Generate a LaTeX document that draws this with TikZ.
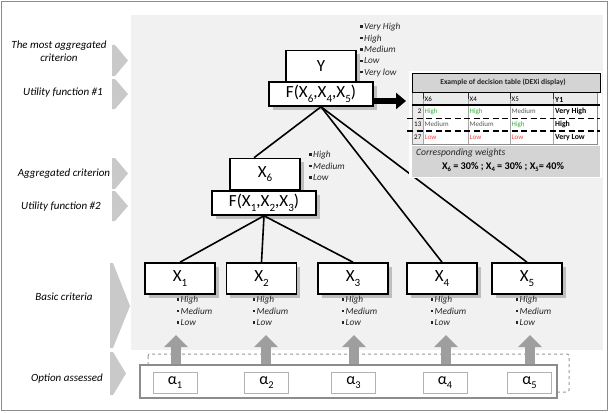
\documentclass[tikz,border=0pt]{standalone}
\usepackage{fontspec}
\setmainfont{Carlito}
\usetikzlibrary{arrows.meta,shadows}
\definecolor{hgreen}{HTML}{3DAE3D}
\definecolor{lred}{HTML}{F04848}
\definecolor{areagray}{HTML}{F1F1F1}
\newcommand\sbs[1]{\raisebox{-0.28em}{\scalebox{0.65}{#1}}}
\newcommand\bq{\rule[0.2em]{2.4pt}{2.4pt}\hspace{1.6pt}}
\begin{document}
\begin{tikzpicture}[x=1pt,y=-1pt,
 box/.style={draw=black,line width=1.6pt,fill=white,minimum width=70pt,minimum height=31pt,inner sep=0pt,
   font=\fontsize{17}{17}\selectfont,
   drop shadow={shadow xshift=3.5pt,shadow yshift=-3.5pt,fill=black!50,opacity=.45}},
 fbox/.style={box,minimum width=104pt,minimum height=24pt},
 lab/.style={font=\fontsize{11}{13}\selectfont\itshape,align=center,inner sep=0pt},
 chev/.style={fill=black!21,draw=none},
 bl/.style={anchor=north west,inner sep=0pt,align=left,font=\fontsize{9.3}{11.4}\selectfont\itshape,text=black!85},
 abox/.style={draw=black!30,fill=white,line width=0.8pt,minimum width=44pt,minimum height=21pt,inner sep=0pt,
   font=\fontsize{16}{16}\selectfont},
 uparr/.style={line width=10pt,draw=black!38,-{Triangle[length=12pt,width=23pt]}},
 link/.style={line width=1.6pt},
 tt/.style={font=\fontsize{7}{7}\selectfont,inner sep=0pt,anchor=west},
 ttb/.style={font=\fontsize{7.8}{8}\selectfont\bfseries,inner sep=0pt,anchor=west},
]
\useasboundingbox (0,0) rectangle (609,412);
% shaded area
\fill[areagray] (131,15) rectangle (603,350);
% left chevrons
\fill[chev] (112,45) -- (115,45) -- (128,60.5) -- (115,76) -- (112,76) -- cycle;
\fill[chev] (112,79) -- (115,79) -- (128,94) -- (115,109) -- (112,109) -- cycle;
\fill[chev] (112,158) -- (115,158) -- (128,173.5) -- (115,189) -- (112,189) -- cycle;
\fill[chev] (112,191) -- (115,191) -- (128,206) -- (115,221) -- (112,221) -- cycle;
\fill[chev] (110,263) -- (113,263) -- (130,306) -- (113,348) -- (110,348) -- cycle;
\fill[chev] (110,352) -- (113,352) -- (126,373.5) -- (113,395) -- (110,395) -- cycle;
% left labels
\node[lab] (l1) at (59,51.5) {The most aggregated\\criterion};
\node[lab] (l2) at (63,93) {Utility function \#1};
\node[lab] (l3) at (64,174) {Aggregated criterion};
\node[lab] (l4) at (61,207) {Utility function \#2};
\node[lab] (l5) at (64,297) {Basic criteria};
\node[lab] (l6) at (67,379) {Option assessed};
% tree boxes
\node[box] (Y) at (321,66) {Y};
\node[fbox] (F1) at (321,94) {F(X\sbs{6},X\sbs{4},X\sbs{5})};
\node[box] (X6) at (265,174) {X\sbs{6}};
\node[fbox] (F2) at (264,203) {F(X\sbs{1},X\sbs{2},X\sbs{3})};
\node[box] (X1) at (180,278.5) {X\sbs{1}};
\node[box] (X2) at (261.5,278.5) {X\sbs{2}};
\node[box] (X3) at (353,278.5) {X\sbs{3}};
\node[box] (X4) at (442,278.5) {X\sbs{4}};
\node[box] (X5) at (527,278.5) {X\sbs{5}};
% connectors
\draw[link] (F1.south) -- ([xshift=-11pt]X6.north);
\draw[link] (F1.south) -- (X4.north);
\draw[link] (F1.south) -- (X5.north);
\draw[link] (F2.south) -- (X1.north);
\draw[link] (F2.south) -- (X2.north);
\draw[link] (F2.south) -- (X3.north);
% bullet lists
\node[bl] (bY) at (360,23) {\bq Very High\\\bq High\\\bq Medium\\\bq Low\\\bq Very low};
\node[bl] (b6) at (309,151) {\bq High\\\bq Medium\\\bq Low};
\node[bl] (b1) at (176.5,296) {\bq High\\\bq Medium\\\bq Low};
\node[bl] (b2) at (252.5,296) {\bq High\\\bq Medium\\\bq Low};
\node[bl] (b3) at (341.5,296) {\bq High\\\bq Medium\\\bq Low};
\node[bl] (b4) at (430.5,296) {\bq High\\\bq Medium\\\bq Low};
\node[bl] (b5) at (515.5,296) {\bq High\\\bq Medium\\\bq Low};
% decision table
\fill[white] (409,71) rectangle (602,178);
\draw[fill=black!17,line width=0.9pt] (412,73) rectangle (600,92);
\node[font=\fontsize{7.6}{8}\selectfont\bfseries,inner sep=0pt,text=black!85] (th) at (503,82.5) {Example of decision table (DEXi display)};
\fill[black!8] (412,93) rectangle (597,105);
\fill[black!8] (412,105) rectangle (423,144);
\foreach \xx in {423,468,510,553} \draw[black!35,line width=0.6pt] (\xx,93) -- (\xx,144);
\foreach \xx in {423,468,510,553} \draw[black!80,line width=0.8pt] (\xx,93) -- (\xx,99);
\draw[black!45,line width=0.6pt] (412,93) -- (412,144) -- (597,144) -- (597,93);
\draw[line width=1.2pt] (412,105) -- (600,105);
\node[tt] (h1) at (424.5,99.5) {X6};
\node[tt] (h2) at (469.5,99.5) {X4};
\node[tt] (h3) at (511.5,99.5) {X5};
\node[ttb] (h4) at (555,99.5) {Y1};
\node[tt,anchor=east] (r1) at (421.5,111.5) {2};
\node[tt,text=hgreen] (c11) at (424.5,111.5) {High};
\node[tt,text=hgreen] (c12) at (469.5,111.5) {High};
\node[tt,text=black!65] (c13) at (511.5,111.5) {Medium};
\node[ttb] (c14) at (555,111.5) {Very High};
\node[tt,anchor=east] (r2) at (421.5,124.5) {13};
\node[tt,text=black!65] (c21) at (424.5,124.5) {Medium};
\node[tt,text=black!65] (c22) at (469.5,124.5) {Medium};
\node[tt,text=hgreen] (c23) at (511.5,124.5) {High};
\node[ttb] (c24) at (555,124.5) {High};
\node[tt,anchor=east] (r3) at (421.5,137.5) {27};
\node[tt,text=lred] (c31) at (424.5,137.5) {Low};
\node[tt,text=lred] (c32) at (469.5,137.5) {Low};
\node[tt,text=lred] (c33) at (511.5,137.5) {Low};
\node[ttb] (c34) at (555,137.5) {Very Low};
\draw[line width=1.6pt,dash pattern=on 6pt off 3.5pt] (407,118.5) -- (600,118.5);
\draw[line width=1.6pt,dash pattern=on 6pt off 3.5pt] (407,131) -- (600,131);
\fill[black!17] (412,145.5) rectangle (600,177);
\node[font=\fontsize{9.6}{10}\selectfont\itshape,inner sep=0pt,anchor=west,text=black!85] (cw) at (416,153) {Corresponding weights};
\node[font=\fontsize{10.2}{11}\selectfont\bfseries,inner sep=0pt] (wt) at (503,167) {X\sbs{6} = 30\% ; X\sbs{4} = 30\% ; X\sbs{5}= 40\%};
% arrow to table
\coordinate (tbl) at (406,101);
\draw[line width=6.5pt,-{Triangle[length=10pt,width=16pt]}] ([yshift=-7pt]F1.east) -- (tbl);
% option assessed
\draw[black!40,dashed,line width=1pt,rounded corners=2pt] (148,354) rectangle (569,392);
\foreach \xx/\nn in {176/1,266/2,354/3,446/4,530/5}{
  \coordinate (up\nn) at (\xx,335);
  \draw[uparr] (\xx,366) -- (up\nn);
}
\node[draw=black!45,fill=white,line width=1.5pt,minimum width=417pt,minimum height=33pt,inner sep=0pt] (opt) at (348.5,381.5) {};
\node[abox] (a1) at (175,382.5) {α\sbs{1}};
\node[abox] (a2) at (266.5,382.5) {α\sbs{2}};
\node[abox] (a3) at (353.5,382.5) {α\sbs{3}};
\node[abox] (a4) at (445,382.5) {α\sbs{4}};
\node[abox] (a5) at (529.5,382.5) {α\sbs{5}};
% frame
\draw[black!45,line width=1.2pt] (1.5,1.5) rectangle (607.5,410.5);
\end{tikzpicture}
\end{document}
